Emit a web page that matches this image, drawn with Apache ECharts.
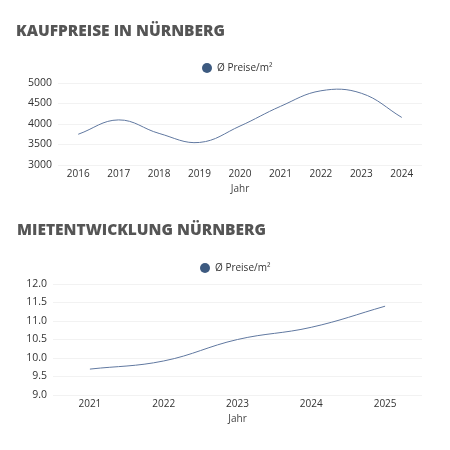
<!DOCTYPE html>
<html>
<head>
<meta charset="utf-8">
<script src="https://cdn.jsdelivr.net/npm/echarts@6/dist/echarts.min.js"></script>
<style>
  html, body { margin: 0; padding: 0; background: #fff; }
  #chart { width: 450px; height: 450px; }
</style>
</head>
<body>
<div id="chart"></div>
<script>
// Kaufpreise
const buyYears = ["2016", "2017", "2018", "2019", "2020", "2021", "2022", "2023", "2024"];
const buyPrices = [3750, 4100, 3770, 3550, 3950, 4430, 4810, 4750, 4160];

// Mieten
const rentYears = ["2021", "2022", "2023", "2024", "2025"];
const rentPrices = [9.7, 9.92, 10.5, 10.83, 11.4];

const seriesName = "Ø Preise/m²";
const dotColor = "#3d5a80";
const lineColor = "#6078a0";
const font = "Open Sans";
const tension = 0.4;

const chart = echarts.init(document.getElementById("chart"));

// spline like a cardinal curve, control points from neighbours (pixel space)
function controlPoints(p0, p1, p2) {
  const d01 = Math.hypot(p1[0] - p0[0], p1[1] - p0[1]);
  const d12 = Math.hypot(p2[0] - p1[0], p2[1] - p1[1]);
  let s01 = d01 / (d01 + d12);
  let s12 = d12 / (d01 + d12);
  if (isNaN(s01)) s01 = 0;
  if (isNaN(s12)) s12 = 0;
  const fa = tension * s01;
  const fb = tension * s12;
  return {
    prev: [p1[0] - fa * (p2[0] - p0[0]), p1[1] - fa * (p2[1] - p0[1])],
    next: [p1[0] + fb * (p2[0] - p0[0]), p1[1] + fb * (p2[1] - p0[1])],
  };
}

function splineSeries(idx, values) {
  return {
    name: seriesName,
    type: "custom",
    xAxisIndex: idx,
    yAxisIndex: idx,
    data: values.map((v, i) => [i, v]),
    encode: { x: 0, y: 1 },
    itemStyle: { color: dotColor },
    renderItem: function (params, api) {
      const i = params.dataIndex;
      if (i >= values.length - 1) return null;
      const pt = (j) => {
        const k = Math.max(0, Math.min(values.length - 1, j));
        return api.coord([k, values[k]]);
      };
      const a = controlPoints(pt(i - 1), pt(i), pt(i + 1));
      const b = controlPoints(pt(i), pt(i + 1), pt(i + 2));
      const p1 = pt(i);
      const p2 = pt(i + 1);
      return {
        type: "bezierCurve",
        shape: {
          x1: p1[0], y1: p1[1],
          x2: p2[0], y2: p2[1],
          cpx1: a.next[0], cpy1: a.next[1],
          cpx2: b.prev[0], cpy2: b.prev[1],
        },
        style: { stroke: lineColor, fill: null, lineWidth: 1 },
      };
    },
  };
}

function xAxis(idx, years) {
  return {
    type: "category",
    gridIndex: idx,
    data: years,
    boundaryGap: true,
    name: "Jahr",
    nameLocation: "middle",
    nameGap: 19,
    nameTextStyle: { color: "#444", fontSize: 10, fontFamily: font },
    axisLine: { show: false },
    axisTick: { show: false },
    axisLabel: { color: "#333", fontSize: 10, fontFamily: font, margin: 4 },
  };
}

function yAxis(idx, min, max, interval, decimals) {
  return {
    type: "value",
    gridIndex: idx,
    min: min,
    max: max,
    interval: interval,
    axisLine: { show: false },
    axisTick: { show: false },
    splitLine: { lineStyle: { color: "#f2f2f2" } },
    axisLabel: {
      color: "#333",
      fontSize: 10.5,
      fontFamily: font,
      margin: 6,
      formatter: (v) => v.toFixed(decimals),
    },
  };
}

chart.setOption({
  animation: false,
  title: [
    {
      text: "KAUFPREISE IN NÜRNBERG",
      left: 11,
      top: 19,
      textStyle: { color: "#555", fontSize: 15.5, fontWeight: 900, fontFamily: font },
    },
    {
      text: "MIETENTWICKLUNG NÜRNBERG",
      left: 12,
      top: 218,
      textStyle: { color: "#555", fontSize: 15.5, fontWeight: 900, fontFamily: font },
    },
  ],
  legend: [
    {
      left: 197,
      top: 58,
      icon: "circle",
      itemWidth: 10,
      itemHeight: 10,
      data: [seriesName],
      textStyle: { color: "#333", fontSize: 10, fontFamily: font },
    },
    {
      left: 195,
      top: 258,
      icon: "circle",
      itemWidth: 10,
      itemHeight: 10,
      data: [seriesName],
      textStyle: { color: "#333", fontSize: 10, fontFamily: font },
    },
  ],
  grid: [
    { left: 58, right: 28, top: 83, height: 82 },
    { left: 53, right: 28, top: 284, height: 111 },
  ],
  xAxis: [xAxis(0, buyYears), xAxis(1, rentYears)],
  yAxis: [yAxis(0, 3000, 5000, 500, 0), yAxis(1, 9, 12, 0.5, 1)],
  series: [splineSeries(0, buyPrices), splineSeries(1, rentPrices)],
});
</script>
</body>
</html>
